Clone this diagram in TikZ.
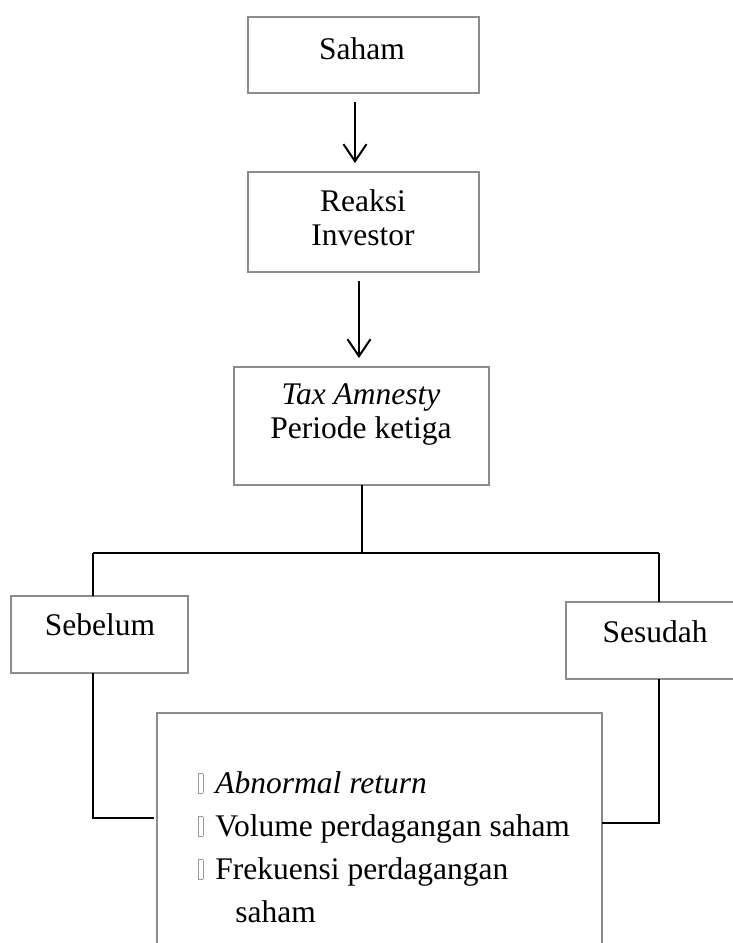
\documentclass[tikz,border=0pt]{standalone}
\usepackage{fontspec}
\setmainfont{Liberation Serif}
\usetikzlibrary{arrows.meta}

\newcommand{\missbox}{{\color{black!40}\fboxsep=0pt\fboxrule=0.3pt\fbox{\rule{0pt}{9.5pt}\hspace{1.9pt}}}}

\tikzset{
  box/.style = {draw=black!45, line width=0.6pt, rectangle, inner sep=0pt, outer sep=0pt},
  txt/.style = {inner sep=0pt, align=center, anchor=base,
                font=\fontsize{15.75}{17}\selectfont},
  link/.style = {draw=black, line width=1pt},
  arr/.style = {link, -{Straight Barb[length=8.5pt, width=11.5pt, line width=1pt]},
                shorten <=4.5pt, shorten >=4.5pt}
}

\begin{document}
\begin{tikzpicture}[x=0.5pt, y=-0.5pt]
\useasboundingbox (0,0) rectangle (733,943);

\node (saham) [box, minimum width=115.5pt, minimum height=38pt] at (363.5,55) {};
\node (reaksi) [box, minimum width=115.5pt, minimum height=50pt] at (363.5,222) {};
\node (tax) [box, minimum width=127.5pt, minimum height=59pt] at (361.5,426) {};
\node (sebelum) [box, minimum width=88.5pt, minimum height=38.5pt] at (99.5,634.5) {};
\node (sesudah) [box, minimum width=87pt, minimum height=38.5pt] at (653,640.5) {};
\node (ind) [box, minimum width=222.5pt, minimum height=130pt] at (379.5,843) {};

% base = last line
\node (sahamtxt) [txt] at (362,59) {Saham};
\node (reaksitxt) [txt] at (363,245) {Reaksi\\Investor};
\node (taxtxt) [txt] at (361,438) {\textit{Tax Amnesty}\\Periode ketiga};
\node (sebelumtxt) [txt] at (100,635) {Sebelum};
\node (sesudahtxt) [txt] at (655,642) {Sesudah};
\node (indtxt) [txt, align=left, anchor=base west,
                font=\fontsize{15.75}{21.5}\selectfont] at (198,922)
  {\missbox\hspace{6pt}\textit{Abnormal return}\\
   \missbox\hspace{6pt}Volume perdagangan saham\\
   \missbox\hspace{6pt}Frekuensi perdagangan\\
   \hspace{18.5pt}saham};

\foreach \a/\b/\s in {saham/reaksi/-4.25pt, reaksi/tax/-2.25pt}
  \draw[arr] ([xshift=\s]\a.south) -- ([xshift=\s]\a.south |- \b.north);

\coordinate (jl) at (93,553);
\coordinate (jr) at (659,553);
\coordinate (bl) at (93,818);
\coordinate (br) at (659,823);

\draw[link] (tax.south) -- (tax.south |- jl);
\draw[link] (jl) -- (jr);
\draw[link] (jl) -- (jl |- sebelum.north);
\draw[link] (jr) -- (jr |- sesudah.north);
\draw[link] (bl |- sebelum.south) -- (bl) -- ([xshift=-1.5pt]bl -| ind.west);
\draw[link] (br |- sesudah.south) -- (br) -- (br -| ind.east);
\end{tikzpicture}
\end{document}
